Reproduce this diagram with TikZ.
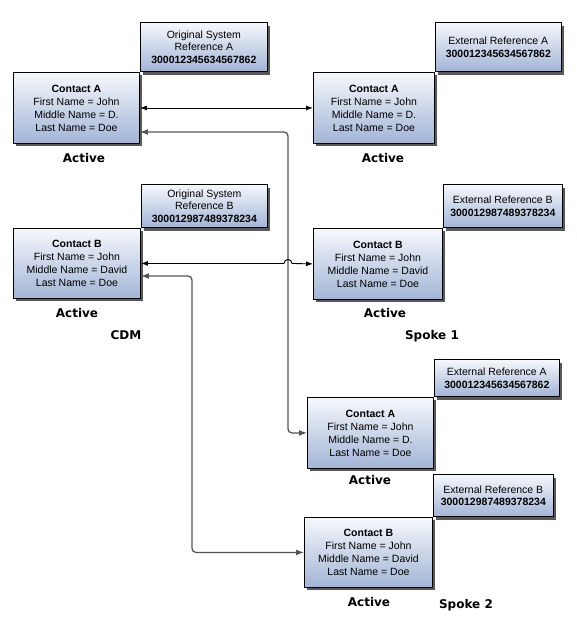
\documentclass[tikz,border=0pt]{standalone}
\usepackage{fontspec}
\setmainfont{Liberation Sans}
\newfontfamily\statefont{DejaVu Sans}
\usetikzlibrary{arrows.meta,shadows}
\definecolor{boxtop}{RGB}{246,248,252}
\definecolor{boxbottom}{RGB}{162,180,214}
\definecolor{linkgray}{RGB}{85,85,85}
\tikzset{
  contact/.style={draw,line width=0.9pt,top color=boxtop,bottom color=boxbottom,
    anchor=north west,minimum width=126pt,minimum height=71pt,inner sep=2pt,
    align=center,font=\fontsize{10.5}{13}\selectfont,
    drop shadow={shadow xshift=3pt,shadow yshift=-3pt,fill=black!65,opacity=1}},
  refbox/.style={contact,anchor=south west,font=\fontsize{10.5}{12.5}\selectfont},
  state/.style={font=\statefont\bfseries\fontsize{12}{14}\selectfont},
  sync/.style={line width=0.9pt,{Latex[length=7pt,width=5pt]}-{Latex[length=7pt,width=5pt]}},
  link/.style={line width=1.3pt,draw=linkgray,rounded corners=4pt,
    {Latex[length=8pt,width=6pt]}-{Latex[length=8pt,width=6pt]}},
}
\begin{document}
\begin{tikzpicture}[x=1pt,y=-1pt]
        \useasboundingbox (0,0) rectangle (576,624);
        %% CDM side
        \node[contact] (cdmA) at (13,72) {\textbf{Contact A}\\First Name = John\\Middle Name = D.\\Last Name = Doe};
        \node[refbox,minimum width=127pt,minimum height=49pt] (cdmRefA) at (cdmA.north east) {Original System\\Reference A\\\textbf{300012345634567862}};
        \node[state] (cdmActA) at (84,158) {Active};
        \node[contact,minimum width=127pt,minimum height=70pt] (cdmB) at (13,228) {\textbf{Contact B}\\First Name = John\\Middle Name = David\\Last Name = Doe};
        \node[refbox,minimum width=126pt,minimum height=43pt] (cdmRefB) at (cdmB.north east) {Original System\\Reference B\\\textbf{300012987489378234}};
        \node[state] (cdmActB) at (77,313) {Active};
        \node[state] (cdm) at (126,335) {CDM};
        %% spoke 1
        \node[contact,minimum width=121pt] (spkOneA) at (313,72) {\textbf{Contact A}\\First Name = John\\Middle Name = D.\\Last Name = Doe};
        \node[refbox,minimum width=126pt,minimum height=49pt] (spkOneRefA) at (spkOneA.north east) {External Reference A\\\textbf{300012345634567862}};
        \node[state] (spkOneActA) at (383,158) {Active};
        \node[contact,minimum width=129pt] (spkOneB) at (313,228) {\textbf{Contact B}\\First Name = John\\Middle Name = David\\Last Name = Doe};
        \node[refbox,minimum width=119pt,minimum height=43pt] (spkOneRefB) at (spkOneB.north east) {External Reference B\\\textbf{300012987489378234}};
        \node[state] (spkOneActB) at (385,313) {Active};
        \node[state] (spkOne) at (432,336) {Spoke 1};
        %% spoke 2
        \node[contact] (spkTwoA) at (307,397) {\textbf{Contact A}\\First Name = John\\Middle Name = D.\\Last Name = Doe};
        \node[refbox,minimum width=125pt,minimum height=37pt] (spkTwoRefA) at (spkTwoA.north east) {External Reference A\\\textbf{300012345634567862}};
        \node[state] (spkTwoActA) at (370,480) {Active};
        \node[contact,minimum width=128pt,minimum height=70pt] (spkTwoB) at (304,517) {\textbf{Contact B}\\First Name = John\\Middle Name = David\\Last Name = Doe};
        \node[refbox,minimum width=120pt,minimum height=42pt] (spkTwoRefB) at (spkTwoB.north east) {External Reference B\\\textbf{300012987489378234}};
        \node[state] (spkTwoActB) at (369,602) {Active};
        \node[state] (spkTwo) at (466,605) {Spoke 2};
        %% links
        \coordinate (trunkA) at (288,132);
        \coordinate (trunkB) at (192,276);
        \coordinate (hop) at (284,0);
        \draw[sync] (cdmA.east) -- (spkOneA.west);
        \draw[link] (cdmA.east |- trunkA) -- (trunkA) |- (spkTwoA.west);
        \draw[link] (cdmB.east |- trunkB) -- (trunkB) |- (spkTwoB.west);
        \draw[sync] (cdmB.east) -- (cdmB.east -| hop) arc[start angle=180,end angle=360,radius=4] -- (spkOneB.west);
    \end{tikzpicture}
\end{document}
